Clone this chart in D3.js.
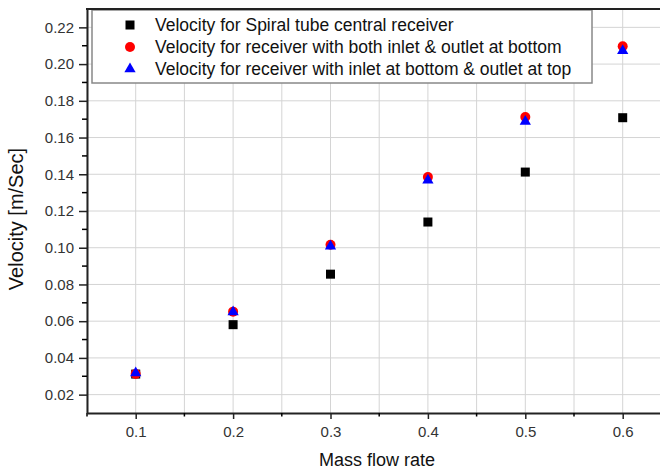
<!DOCTYPE html>
<html>
<head>
<meta charset="utf-8">
<script src="https://cdn.jsdelivr.net/npm/d3@7"></script>
<style>
  body { margin: 0; background: #fff; }
  svg { font-family: Arial, "Liberation Sans", sans-serif; display: block; }
</style>
</head>
<body>
<div class="chart"></div>
<script>
var width = 660;
var height = 470;
var margin = {top: 9, left: 87, bottom: 57};

// data
var massFlow = [0.1, 0.2, 0.3, 0.4, 0.5, 0.6];
var spiralVelocity = [0.0312, 0.0581, 0.0856, 0.114, 0.1412, 0.1708];
var bothBottomVelocity = [0.0313, 0.0652, 0.1016, 0.1385, 0.1712, 0.2097];
var bottomTopVelocity = [0.0318, 0.0650, 0.1008, 0.1368, 0.1688, 0.2072];
var seriesNames = [
    "Velocity for Spiral tube central receiver",
    "Velocity for receiver with both inlet & outlet at bottom",
    "Velocity for receiver with inlet at bottom & outlet at top"
];
var xTicks = [0.1, 0.2, 0.3, 0.4, 0.5, 0.6];
var xMinorTicks = [0.05, 0.15, 0.25, 0.35, 0.45, 0.55, 0.65];
var yTicks = [0.02, 0.04, 0.06, 0.08, 0.10, 0.12, 0.14, 0.16, 0.18, 0.20, 0.22];
var yMinorTicks = [0.03, 0.05, 0.07, 0.09, 0.11, 0.13, 0.15, 0.17, 0.19, 0.21];

var svg = d3.select(".chart")
    .append("svg")
    .attr("width", width)
    .attr("height", height);

var xScale = d3.scaleLinear()
    .domain([0.05, 0.65])
    .range([margin.left, margin.left + 0.6 * 974]);

var yScale = d3.scaleLinear()
    .domain([0.01, 0.23])
    .range([height - margin.bottom, margin.top]);

var bottomY = height - margin.bottom;

// grid
var grid = svg.append("g").attr("stroke", "#d4d4d4").attr("stroke-width", 1);
grid.selectAll(".vx")
    .data(xTicks.concat(xMinorTicks))
    .enter().append("line")
    .attr("x1", function(d){return xScale(d);})
    .attr("x2", function(d){return xScale(d);})
    .attr("y1", margin.top)
    .attr("y2", bottomY);
grid.selectAll(".hy")
    .data(yTicks)
    .enter().append("line")
    .attr("x1", margin.left)
    .attr("x2", width)
    .attr("y1", function(d){return yScale(d);})
    .attr("y2", function(d){return yScale(d);});

// points
svg.selectAll(".sq")
    .data(massFlow)
    .enter().append("rect")
    .attr("x", function(d){return xScale(d) - 4.5;})
    .attr("y", function(d, i){return yScale(spiralVelocity[i]) - 4.5;})
    .attr("width", 9)
    .attr("height", 9)
    .attr("fill", "black");

svg.selectAll(".ci")
    .data(massFlow)
    .enter().append("circle")
    .attr("cx", function(d){return xScale(d);})
    .attr("cy", function(d, i){return yScale(bothBottomVelocity[i]);})
    .attr("r", 5)
    .attr("fill", "red");

var triangle = d3.symbol().type(d3.symbolTriangle).size(55);
svg.selectAll(".tr")
    .data(massFlow)
    .enter().append("path")
    .attr("d", triangle)
    .attr("transform", function(d, i){return `translate(${xScale(d)},${yScale(bottomTopVelocity[i])})`;})
    .attr("fill", "blue");

// legend
var legend = svg.append("g");
legend.append("rect")
    .attr("x", 92)
    .attr("y", 10)
    .attr("width", 500)
    .attr("height", 73)
    .attr("fill", "white")
    .attr("stroke", "#888")
    .attr("stroke-width", 1.5);

var legendRows = legend.selectAll(".row")
    .data(seriesNames)
    .enter().append("g")
    .attr("transform", function(d, i){return `translate(130,${25 + i * 22})`;});

legendRows.each(function(d, i) {
    var g = d3.select(this);
    if (i === 0) {
        g.append("rect").attr("x", -4.5).attr("y", -4.5).attr("width", 9).attr("height", 9).attr("fill", "black");
    } else if (i === 1) {
        g.append("circle").attr("r", 5).attr("fill", "red");
    } else {
        g.append("path").attr("d", triangle).attr("fill", "blue");
    }
    g.append("text")
        .attr("x", 25)
        .attr("dy", "0.36em")
        .attr("font-size", 17.5)
        .attr("fill", "#111")
        .text(d);
});

// axes
var xAxis = svg.append("g")
    .attr("transform", `translate(0,${bottomY})`)
    .call(d3.axisBottom(xScale).tickValues(xTicks).tickFormat(d3.format(".1f")).tickSize(6).tickPadding(7).tickSizeOuter(0));
xAxis.append("g").selectAll("line")
    .data(xMinorTicks)
    .enter().append("line")
    .attr("x1", function(d){return xScale(d);})
    .attr("x2", function(d){return xScale(d);})
    .attr("y1", 0)
    .attr("y2", 3.5)
    .attr("stroke", "black")
    .attr("stroke-width", 1.5);

var yAxis = svg.append("g")
    .attr("transform", `translate(${margin.left},0)`)
    .call(d3.axisLeft(yScale).tickValues(yTicks).tickFormat(d3.format(".2f")).tickSize(8).tickPadding(5).tickSizeOuter(0));
yAxis.append("g").selectAll("line")
    .data(yMinorTicks)
    .enter().append("line")
    .attr("x1", 0)
    .attr("x2", -5)
    .attr("y1", function(d){return yScale(d);})
    .attr("y2", function(d){return yScale(d);})
    .attr("stroke", "black")
    .attr("stroke-width", 1.5);

[xAxis, yAxis].forEach(function(ax) {
    ax.select(".domain").attr("stroke-width", 2).attr("stroke", "#222");
    ax.selectAll(".tick line").attr("stroke-width", 1.5).attr("stroke", "#222");
    ax.selectAll(".tick text").attr("font-size", 15).attr("fill", "#333").attr("font-family", "Arial, 'Liberation Sans', sans-serif");
});

// top frame
svg.append("line")
    .attr("x1", margin.left - 1)
    .attr("x2", width)
    .attr("y1", margin.top)
    .attr("y2", margin.top)
    .attr("stroke", "#222")
    .attr("stroke-width", 2);

// axis titles
svg.append("text")
    .attr("x", 377)
    .attr("y", 466)
    .attr("text-anchor", "middle")
    .attr("font-size", 18)
    .attr("fill", "#111")
    .text("Mass flow rate");

svg.append("text")
    .attr("transform", "translate(23,219) rotate(-90)")
    .attr("text-anchor", "middle")
    .attr("font-size", 20)
    .attr("fill", "#111")
    .text("Velocity [m/Sec]");
</script>
</body>
</html>
